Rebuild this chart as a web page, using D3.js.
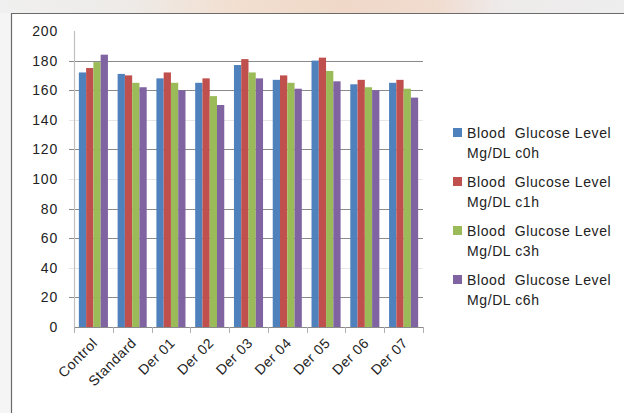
<!DOCTYPE html>
<html><head><meta charset="utf-8">
<script src="https://cdn.jsdelivr.net/npm/d3@7"></script>
<style>html,body{margin:0;padding:0;background:#fff;}svg{display:block;}</style>
</head><body>
<script>
const categories = ["Control","Standard","Der 01","Der 02","Der 03","Der 04","Der 05","Der 06","Der 07"];
const seriesNames = ["Blood  Glucose Level Mg/DL c0h","Blood  Glucose Level Mg/DL c1h","Blood  Glucose Level Mg/DL c3h","Blood  Glucose Level Mg/DL c6h"];
const s0h = [172,171,168,165,177,167,180,164,165];
const s1h = [175,170,172,168,181,170,182,167,167];
const s3h = [179,165,165,156,172,165,173,162,161];
const s6h = [184,162,160,150,168,161,166,160,155];
const yTicks = [0,20,40,60,80,100,120,140,160,180,200];
const colors = ["#4F81BD","#C0504D","#9BBB59","#8064A2"];
const series = [s0h,s1h,s3h,s6h];

const W=624,H=413;
const FONT="Liberation Sans, Arial, sans-serif";
const svg=d3.select("body").append("svg").attr("width",W).attr("height",H);
const defs=svg.append("defs");
const g1=defs.append("linearGradient").attr("id","topg").attr("x1",0).attr("x2",1).attr("y1",0).attr("y2",0);
[["0%","#f0f0f0"],["20%","#eeebe8"],["38%","#f2dfd0"],["55%","#efd8c8"],["70%","#f1dcd0"],["80%","#eeeaea"],["100%","#eeeeee"]].forEach(s=>g1.append("stop").attr("offset",s[0]).attr("stop-color",s[1]));
svg.append("rect").attr("width",W).attr("height",H).attr("fill","#f5f5f5");
svg.append("rect").attr("width",W).attr("height",13).attr("fill","url(#topg)");
svg.append("rect").attr("x",11).attr("y",13).attr("width",W-11).attr("height",H-13).attr("fill","#fff");
svg.append("path").attr("d",`M11.5,${H} V13.5 H${W}`).attr("fill","none").attr("stroke","#6a6a6a").attr("stroke-width",1.2);

const x0=d3.scaleBand().domain(categories).range([74,423]).paddingInner(0).paddingOuter(0);
const y=d3.scaleLinear().domain([0,200]).range([327,31]);
const inner=x0.bandwidth()*0.75;
const x1=d3.scaleBand().domain(d3.range(4)).range([(x0.bandwidth()-inner)/2,(x0.bandwidth()+inner)/2]);

// gridlines
const visible=new Set([20,60,80,120,160,180]);
svg.append("g").selectAll("line").data(yTicks.filter(t=>t>0 && t<200)).join("line")
  .attr("x1",69).attr("x2",423).attr("y1",d=>Math.round(y(d))+0.5).attr("y2",d=>Math.round(y(d))+0.5)
  .attr("stroke",d=>visible.has(d)?"#8a8a8a":"#e6e6e6").attr("stroke-width",1);

// bars
categories.forEach((c,i)=>{
  series.forEach((s,k)=>{
    svg.append("rect").attr("x",x0(c)+x1(k)).attr("width",x1.bandwidth())
      .attr("y",y(s[i])).attr("height",y(0)-y(s[i])).attr("fill",colors[k]);
  });
});

// y axis
svg.append("line").attr("x1",74.5).attr("x2",74.5).attr("y1",31).attr("y2",331).attr("stroke","#c0c0c0").attr("stroke-width",1.2);
svg.append("g").selectAll("text").data(yTicks).join("text")
  .attr("x",58).attr("y",d=>y(d)+5).attr("text-anchor","end").attr("letter-spacing",0.8)
  .attr("font-family",FONT).attr("font-size",14).attr("fill","#222").text(d=>d);
// x axis
svg.append("line").attr("x1",74).attr("x2",424).attr("y1",327.5).attr("y2",327.5).attr("stroke","#8a8a8a").attr("stroke-width",1.2);
svg.append("g").selectAll("line").data(d3.range(categories.length+1)).join("line")
  .attr("x1",d=>Math.round(74+d*x0.bandwidth())+0.5).attr("x2",d=>Math.round(74+d*x0.bandwidth())+0.5)
  .attr("y1",327).attr("y2",333).attr("stroke","#b0b0b0");
svg.append("g").selectAll("text").data(categories).join("text")
  .attr("transform",d=>`translate(${x0(d)+x0.bandwidth()/2+5},${344}) rotate(-45)`)
  .attr("text-anchor","end").attr("letter-spacing",0.5).attr("font-family",FONT).attr("font-size",14).attr("fill","#222").text(d=>d);

// legend
const leg=svg.append("g");
seriesNames.forEach((n,k)=>{
  const yy=133+k*49;
  leg.append("rect").attr("x",453).attr("y",yy-5).attr("width",9).attr("height",9).attr("fill",colors[k]);
  const parts=[n.slice(0,20),n.slice(21)];
  leg.append("text").attr("x",467).attr("y",yy+5).attr("xml:space","preserve").style("white-space","pre").attr("letter-spacing",0.6)
    .attr("font-family",FONT).attr("font-size",14).attr("fill","#222").text(parts[0]);
  leg.append("text").attr("x",467).attr("y",yy+24.5).attr("letter-spacing",0.6)
    .attr("font-family",FONT).attr("font-size",14).attr("fill","#222").text(parts[1]);
});
</script>
</body></html>
